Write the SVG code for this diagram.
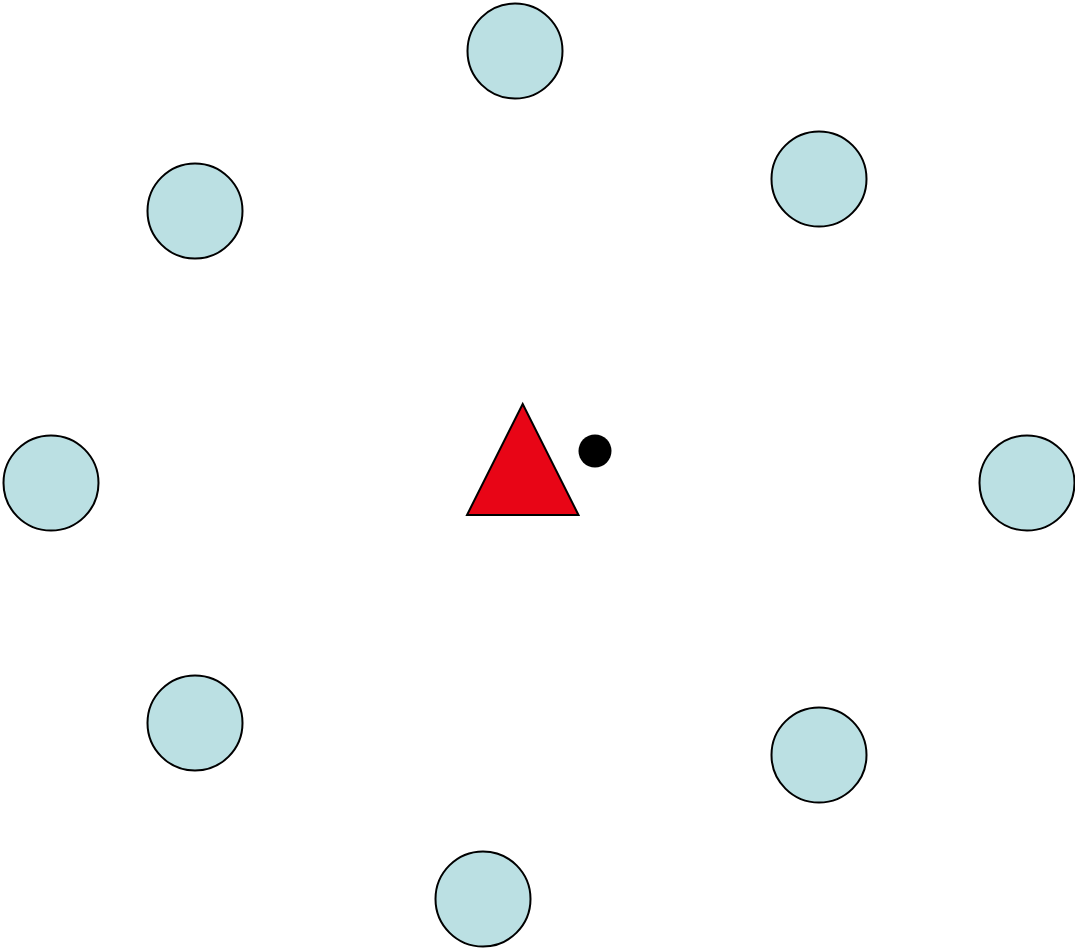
<svg xmlns="http://www.w3.org/2000/svg" width="1075" height="949" viewBox="0 0 1075 949">
<style>
.n{fill:#BBE0E3;stroke:#000;stroke-width:2}
</style>
<rect width="1075" height="949" fill="#fff"/>
<g id="n1"><circle class="n" cx="515" cy="51" r="47.5"/></g>
<g id="n2"><circle class="n" cx="819" cy="179" r="47.5"/></g>
<g id="n3"><circle class="n" cx="1027" cy="483" r="47.5"/></g>
<g id="n4"><circle class="n" cx="819" cy="755" r="47.5"/></g>
<g id="n5"><circle class="n" cx="483" cy="899" r="47.5"/></g>
<g id="n6"><circle class="n" cx="195" cy="723" r="47.5"/></g>
<g id="n7"><circle class="n" cx="51" cy="483" r="47.5"/></g>
<g id="n8"><circle class="n" cx="195" cy="211" r="47.5"/></g>
<g id="center"><polygon points="522.7,404 467,515 578.5,515" fill="#E80516" stroke="#000" stroke-width="2" stroke-linejoin="miter"/></g>
<g id="dot"><circle cx="595" cy="451" r="16.5" fill="#000"/></g>
<g id="connectors"></g>
</svg>
